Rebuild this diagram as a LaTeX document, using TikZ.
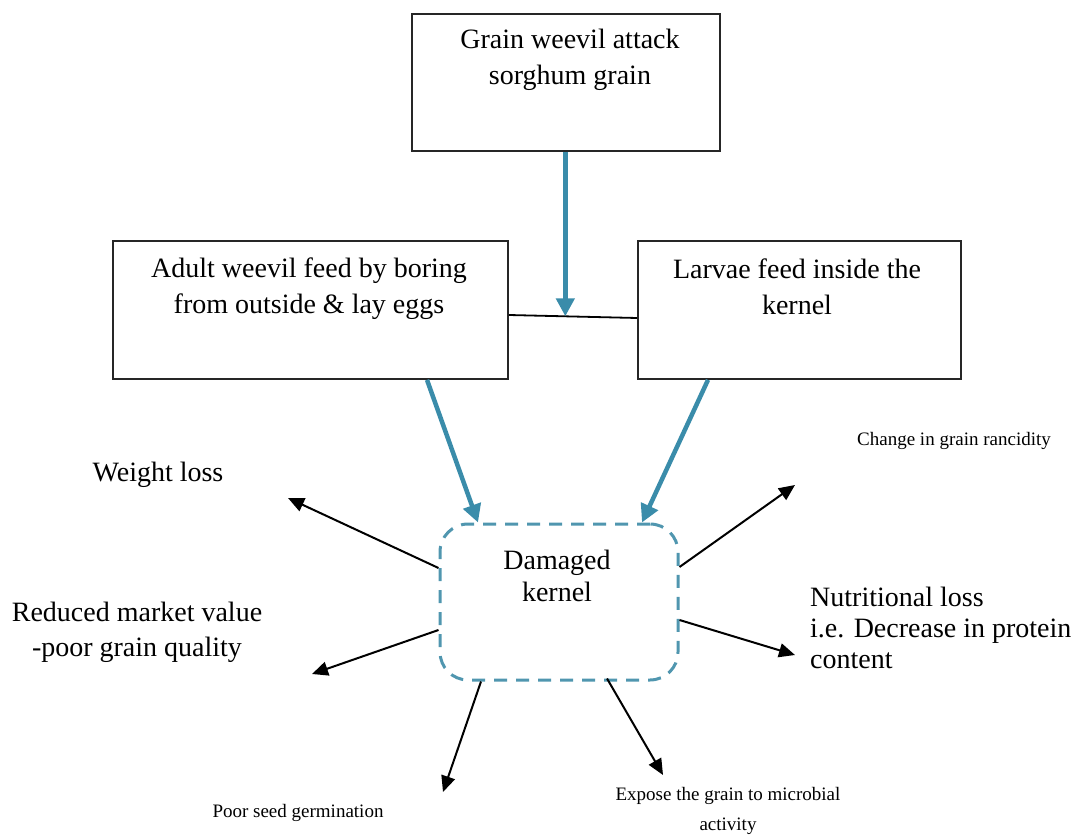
\documentclass[tikz,border=0pt]{standalone}
\usepackage{fontspec}
\setmainfont{Liberation Serif}
\usetikzlibrary{arrows.meta,calc}
\definecolor{flowblue}{RGB}{58,140,170}
\definecolor{dashblue}{RGB}{80,150,175}
\tikzset{
  box/.style={draw=black!85, line width=1.8pt, rectangle, minimum width=#1, inner sep=0pt},
  big/.style={font=\fontsize{28}{36}\selectfont, align=center, inner sep=0pt},
  small/.style={font=\fontsize{19}{30}\selectfont, align=center, inner sep=0pt},
  bluearrow/.style={draw=flowblue, line width=4.5pt, -{Triangle[length=18pt,width=18pt]}},
  blackarrow/.style={draw=black, line width=2pt, -{Triangle[length=16pt,width=14pt]}},
  dkbox/.style={draw=dashblue, line width=3pt, dash pattern=on 13pt off 9pt, rounded corners=28pt, rectangle, minimum width=238pt, minimum height=156pt, inner sep=0pt}
}
\begin{document}
\begin{tikzpicture}[x=1pt,y=-1pt]
\useasboundingbox (0,0) rectangle (1076,837);
% boxes
\node[box=308pt, minimum height=137pt] (top) at (566,82.5) {};
\node[box=395pt, minimum height=138pt] (left) at (310.5,310) {};
\node[box=323pt, minimum height=138pt] (right) at (799.5,310) {};
\node[dkbox] (dk) at (559,602) {};
% texts in boxes
\node[big] (toptext) at (570,60) {Grain weevil attack\\sorghum grain};
\node[big] (lefttext) at (309,289) {Adult weevil feed by boring\\from outside \& lay eggs};
\node[big] (righttext) at (797,287) {Larvae feed inside the\\kernel};
\node[big, font=\fontsize{28}{32}\selectfont] (dktext) at (557,576) {Damaged\\kernel};
% outer labels
\node[big] (wltext) at (158,475) {Weight loss};
\node[big, font=\fontsize{28}{35}\selectfont] (rmtext) at (137,632) {Reduced market value\\-poor grain quality};
\node[big, font=\fontsize{28}{31}\selectfont, align=left, anchor=west] (nltext) at (810,628) {Nutritional loss\\i.e. Decrease in protein\\content};
\node[small] (crtext) at (954,441) {Change in grain rancidity};
\node[small] (pstext) at (298,813) {Poor seed germination};
\node[small] (extext) at (728,811) {Expose the grain to microbial\\activity};
% connector between the two middle boxes
\coordinate (la) at ([yshift=-5pt]left.east);
\coordinate (rb) at ([yshift=-8pt]right.west);
\draw[black, line width=1.8pt] (la) -- (rb);
\coordinate (j) at ($(la)!0.44!(rb)$);
% blue arrows
\draw[bluearrow] (top.south -| j) -- (j);
\draw[bluearrow] ([xshift=116.5pt]left.south) -- ([xshift=-81pt]dk.north);
\draw[bluearrow] ([xshift=-91.5pt]right.south) -- ([xshift=83pt]dk.north);
% tips of black arrows
\coordinate (wl) at (288,498);
\coordinate (rm) at (312,674);
\coordinate (ps) at (443,792);
\coordinate (ex) at (663,775);
\coordinate (nl) at (795,655);
\coordinate (cr) at (795,485);
\draw[blackarrow] ([yshift=34pt]dk.west) -- (wl);
\draw[blackarrow] ([yshift=-28pt]dk.west) -- (rm);
\draw[blackarrow] ([xshift=-78pt]dk.south) -- (ps);
\draw[blackarrow] ([xshift=48pt,yshift=3pt]dk.south) -- (ex);
\draw[blackarrow] ([yshift=35pt]dk.east) -- (cr);
\draw[blackarrow] ([yshift=-18pt]dk.east) -- (nl);
\end{tikzpicture}
\end{document}
